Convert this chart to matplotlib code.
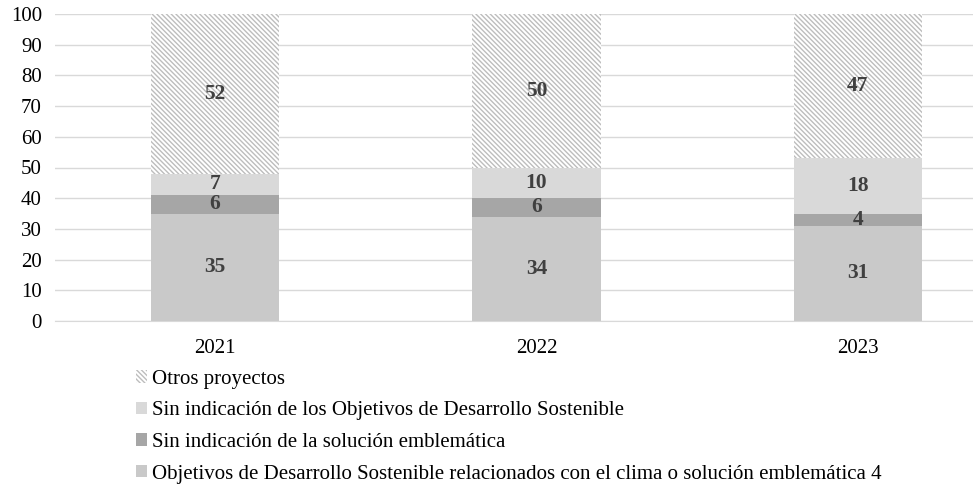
import numpy as np
import matplotlib.pyplot as plt

plt.rcParams['font.family'] = ['Liberation Serif', 'DejaVu Serif']
plt.rcParams['hatch.linewidth'] = 1.0

# datos
anios = ['2021', '2022', '2023']
clima = [35, 34, 31]
sin_solucion = [6, 6, 4]
sin_ods = [7, 10, 18]
otros = [52, 50, 47]

etiquetas = ['Objetivos de Desarrollo Sostenible relacionados con el clima o solución emblemática 4',
             'Sin indicación de la solución emblemática',
             'Sin indicación de los Objetivos de Desarrollo Sostenible',
             'Otros proyectos']

fig = plt.figure(figsize=(9.73, 4.84), dpi=100)
ax = fig.add_axes([55/973, 1-321/484, 1-55/973, 307/484])

x = np.arange(len(anios))
w = 0.40
series = [clima, sin_solucion, sin_ods, otros]
colores = ['#c9c9c9', '#a6a6a6', '#d9d9d9', 'white']
abajo = np.zeros(len(anios))
for i, (vals, col) in enumerate(zip(series, colores)):
    if i == 3:
        ax.bar(x, vals, w, bottom=abajo, color='white', edgecolor='#bdbdbd',
               hatch='\\' * 7, linewidth=0, label=etiquetas[i], zorder=3)
    else:
        ax.bar(x, vals, w, bottom=abajo, color=col, linewidth=0,
               label=etiquetas[i], zorder=3)
    for xi, v, a in zip(x, vals, abajo):
        ax.text(xi, a + v / 2, str(v), ha='center', va='center', fontsize=15.5,
                fontweight='bold', color='#404040', zorder=4)
    abajo = abajo + np.array(vals)

ax.set_xlim(-0.498, 2.358)
ax.set_ylim(0, 100)
ax.set_yticks(range(0, 101, 10))
ax.set_xticks(x)
ax.set_xticklabels(anios)
ax.tick_params(axis='both', length=0, labelsize=15, colors='black')
ax.tick_params(axis='y', pad=9.4)
ax.tick_params(axis='x', pad=13)
ax.yaxis.grid(True, color='#d9d9d9', linewidth=1, zorder=0)
for s in ['top', 'right', 'left']:
    ax.spines[s].set_visible(False)
ax.spines['bottom'].set_color('#d9d9d9')
ax.spines['bottom'].set_zorder(0)

h, l = ax.get_legend_handles_labels()
fig.legend(h[::-1], l[::-1], loc='upper left', bbox_to_anchor=(136/973, 1-370/484),
           frameon=False, fontsize=15, handlelength=0.55, handleheight=0.55,
           handletextpad=0.2, labelspacing=0.6, borderaxespad=0, borderpad=0)

plt.savefig('out.png', dpi=100)
